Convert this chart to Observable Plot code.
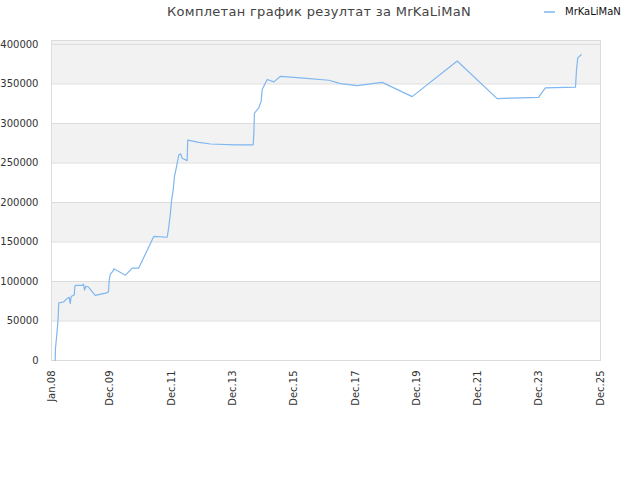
<!DOCTYPE html>
<html>
<head>
<meta charset="utf-8">
<script src="https://cdn.jsdelivr.net/npm/d3@7"></script>
<script src="https://cdn.jsdelivr.net/npm/@observablehq/plot@0.6"></script>
<style>
  body { margin: 0; background: #fff; font-family: "DejaVu Sans", sans-serif; }
  #wrap { position: relative; width: 640px; height: 480px; }
  #head { position: relative; width: 640px; height: 28px; }
  #title { position: absolute; left: 0; width: 638px; top: 4px; text-align: center; font-size: 13px; color: #444; letter-spacing: 0.3px; }
  #legend { position: absolute; left: 544px; top: 6px; font-size: 10px; color: #111; display: flex; align-items: center; }
  #legend .sw { width: 11px; height: 2px; background: #9cc8f4; margin-right: 10px; }
</style>
</head>
<body>
<div id="wrap">
  <div id="head">
    <div id="title">Комплетан график резултат за MrKaLiMaN</div>
    <div id="legend"><span class="sw"></span><span>MrKaLiMaN</span></div>
  </div>
  <div id="chart"></div>
</div>
<script>
const seriesName = "MrKaLiMaN";
const dates = [
  "2008-02-14","2008-02-17","2008-03-01","2008-03-18","2008-03-28","2008-05-23","2008-07-01","2008-07-30",
  "2008-08-11","2008-08-23","2008-09-19","2008-09-28","2008-10-05","2008-10-10","2008-12-28","2009-01-17",
  "2009-01-29","2009-02-13","2009-03-17","2009-06-05","2009-10-21","2009-11-10","2009-11-19","2009-12-01",
  "2010-01-09","2010-01-13","2010-06-01","2010-08-20","2010-11-06","2011-05-04","2011-10-11","2011-10-30",
  "2011-11-19","2011-12-01","2011-12-21","2012-01-06","2012-01-30","2012-02-26","2012-03-18","2012-04-07",
  "2012-06-05","2012-06-12","2012-10-22","2013-03-10","2014-01-02","2014-08-01","2014-08-08","2014-08-16",
  "2014-10-06","2014-11-04","2014-11-16","2015-01-15","2015-04-04","2015-06-23","2016-02-16","2017-01-19",
  "2017-06-07","2017-12-23","2018-10-17","2019-10-09","2021-03-29","2022-07-18","2022-12-24","2023-11-25",
  "2023-12-15","2024-02-14","2025-02-06","2025-02-18","2025-03-05","2025-04-15"
];
const scores = [
  0, 15000, 29000, 50000, 73000, 74000, 78000, 80000,
  72000, 81000, 82500, 83000, 93000, 95000, 95000, 96500,
  89000, 94000, 93000, 82500, 85500, 87000, 101600, 109000,
  114000, 116000, 108000, 117000, 117000, 157000, 156000, 169000,
  187000, 201000, 216000, 233000, 245000, 260000, 261600, 256000,
  253000, 279000, 276000, 274000, 273000, 273000, 286000, 313000,
  319600, 328000, 343000, 355600, 352600, 359700, 357600, 354700,
  350500, 348000, 352000, 334000, 379000, 331400, 332000, 333000,
  336500, 345000, 346000, 368000, 383000, 387000
];
const xTickDates = ["2008-01-01","2009-12-01","2011-12-01","2013-12-01","2015-12-01","2017-12-01","2019-12-01","2021-12-01","2023-12-01","2025-12-01"];
const xTickLabels = ["Jan.08","Dec.09","Dec.11","Dec.13","Dec.15","Dec.17","Dec.19","Dec.21","Dec.23","Dec.25"];
const yTicks = [0, 50000, 100000, 150000, 200000, 250000, 300000, 350000, 400000];
const yMax = 405000;
const bandLow = [50000, 150000, 250000, 350000];
const bandHigh = [100000, 200000, 300000, 405000];

const data = dates.map((d, i) => ({date: new Date(d), score: scores[i]}));
const bands = bandLow.map((lo, i) => ({lo, hi: bandHigh[i]}));
const tickDates = xTickDates.map(d => new Date(d));
const labelOf = new Map(tickDates.map((d, i) => [+d, xTickLabels[i]]));

const chart = Plot.plot({
  width: 640,
  height: 452,
  marginTop: 12,
  marginBottom: 120,
  marginLeft: 51,
  marginRight: 40,
  style: {fontFamily: "DejaVu Sans, sans-serif", fontSize: "10px", color: "#333", background: "#fff"},
  x: {type: "utc", domain: [tickDates[0], tickDates[tickDates.length - 1]], ticks: tickDates,
      tickFormat: d => labelOf.get(+d), tickSize: 0, tickPadding: 10, tickRotate: -90, label: null},
  y: {domain: [0, yMax], ticks: yTicks, tickFormat: d => String(d), tickSize: 0, tickPadding: 13, label: null},
  marks: [
    Plot.rect(bands, {y1: "lo", y2: "hi", fill: "#f2f2f2"}),
    Plot.ruleY(yTicks, {stroke: "#dcdcdc"}),
    Plot.frame({stroke: "#dcdcdc"}),
    Plot.line(data, {x: "date", y: "score", stroke: "#7fb7ef", strokeWidth: 1.2})
  ]
});
document.getElementById("chart").appendChild(chart);
</script>
</body>
</html>
